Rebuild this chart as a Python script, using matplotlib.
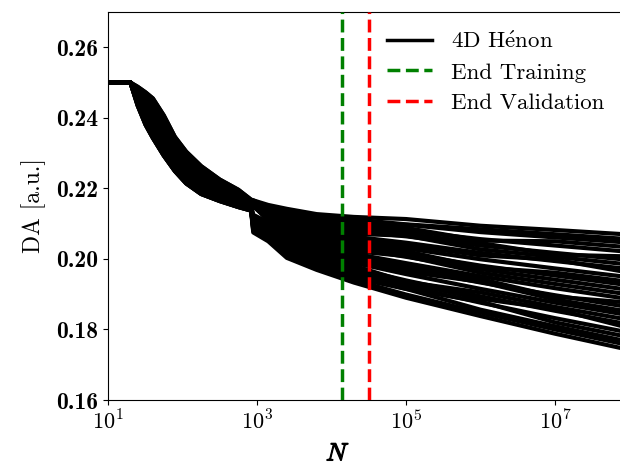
import matplotlib
matplotlib.use("Agg")
import matplotlib.pyplot as plt
import matplotlib.patheffects as pe

plt.rcParams["mathtext.fontset"] = "cm"
plt.rcParams["font.family"] = ["cmr10", "DejaVu Serif"]
plt.rcParams["axes.unicode_minus"] = False
plt.rcParams["axes.formatter.use_mathtext"] = True

n_turns = [10, 20, 25, 32, 40, 56, 79, 112, 178, 316, 562, 832, 891,
           1413, 2512, 6310, 19953, 1e5, 1e6, 1e7, 1e8]

# one row per initial condition (DA in a.u.)
da_curves = [
    [.25, .25, .2488, .2472, .2455, .2407, .2346, .2304, .2263, .2225, .2196, .2168, .2166, .2153, .2142, .2127, .2119, .2113, .2094, .2082, .2069],
    [.25, .25, .2483, .2464, .2445, .2397, .2337, .2296, .2256, .2219, .2192, .2165, .2163, .2149, .2136, .2121, .2112, .2098, .2084, .2070, .2056],
    [.25, .25, .2488, .2472, .2455, .2407, .2346, .2304, .2263, .2225, .2196, .2168, .2166, .2146, .2132, .2116, .2106, .2097, .2076, .2061, .2046],
    [.25, .25, .2478, .2455, .2435, .2386, .2329, .2288, .2249, .2214, .2187, .2162, .2160, .2142, .2127, .2110, .2099, .2088, .2052, .2050, .2033],
    [.25, .25, .2483, .2464, .2445, .2397, .2337, .2296, .2256, .2219, .2192, .2165, .2163, .2138, .2121, .2103, .2091, .2080, .2056, .2038, .2020],
    [.25, .25, .2474, .2447, .2425, .2376, .2320, .2280, .2242, .2208, .2183, .2160, .2158, .2133, .2116, .2097, .2084, .2071, .2045, .2012, .2007],
    [.25, .25, .2478, .2455, .2435, .2386, .2329, .2288, .2249, .2214, .2187, .2162, .2160, .2130, .2111, .2092, .2078, .2064, .2038, .2017, .1997],
    [.25, .25, .2469, .2439, .2415, .2366, .2311, .2272, .2235, .2203, .2178, .2157, .2155, .2126, .2106, .2086, .2071, .2066, .2027, .2006, .1984],
    [.25, .25, .2474, .2447, .2425, .2376, .2320, .2280, .2242, .2208, .2183, .2160, .2158, .2122, .2100, .2080, .2063, .2046, .2017, .1994, .1971],
    [.25, .25, .2464, .2431, .2405, .2356, .2302, .2264, .2227, .2197, .2174, .2154, .2152, .2119, .2096, .2075, .2058, .2039, .2010, .1998, .1961],
    [.25, .25, .2469, .2439, .2415, .2366, .2311, .2272, .2235, .2203, .2178, .2157, .2155, .2115, .2091, .2069, .2050, .2030, .1999, .1973, .1948],
    [.25, .25, .2459, .2421, .2393, .2344, .2293, .2255, .2220, .2191, .2169, .2151, .2149, .2111, .2085, .2062, .2043, .2022, .1976, .1961, .1935],
    [.25, .25, .2464, .2431, .2405, .2356, .2302, .2264, .2227, .2197, .2174, .2154, .2152, .2108, .2081, .2057, .2037, .2015, .1981, .1953, .1925],
    [.25, .25, .2454, .2413, .2383, .2334, .2284, .2246, .2212, .2186, .2165, .2148, .2125, .2104, .2075, .2051, .2030, .2006, .1971, .1941, .1912],
    [.25, .25, .2459, .2421, .2393, .2344, .2293, .2255, .2220, .2191, .2169, .2151, .2121, .2099, .2070, .2045, .2022, .2008, .1961, .1929, .1899],
    [.25, .25, .2449, .2405, .2373, .2324, .2275, .2238, .2205, .2181, .2160, .2145, .2117, .2095, .2064, .2039, .2015, .1988, .1951, .1917, .1886],
    [.25, .25, .2454, .2413, .2383, .2334, .2284, .2246, .2212, .2186, .2165, .2148, .2114, .2092, .2060, .2034, .2009, .1981, .1943, .1893, .1876],
    [.25, .25, .2445, .2397, .2363, .2314, .2267, .2230, .2198, .2175, .2156, .2143, .2111, .2088, .2054, .2027, .2002, .1973, .1933, .1897, .1863],
    [.25, .25, .2449, .2405, .2373, .2324, .2275, .2238, .2205, .2181, .2160, .2145, .2107, .2084, .2049, .2021, .1994, .1964, .1935, .1885, .1850],
    [.25, .25, .2440, .2388, .2353, .2303, .2258, .2222, .2191, .2170, .2151, .2140, .2104, .2081, .2045, .2016, .1989, .1957, .1915, .1876, .1840],
    [.25, .25, .2445, .2397, .2363, .2314, .2267, .2230, .2198, .2175, .2156, .2143, .2100, .2077, .2039, .2010, .1981, .1935, .1905, .1864, .1827],
    [.25, .25, .2435, .2380, .2343, .2293, .2249, .2214, .2184, .2164, .2147, .2137, .2096, .2073, .2034, .2004, .1974, .1939, .1894, .1853, .1814],
    [.25, .25, .2440, .2388, .2353, .2303, .2258, .2222, .2191, .2170, .2151, .2140, .2093, .2070, .2029, .1999, .1968, .1932, .1887, .1858, .1804],
    [.25, .25, .2435, .2380, .2343, .2293, .2249, .2214, .2184, .2164, .2147, .2137, .2089, .2065, .2024, .1993, .1961, .1923, .1876, .1832, .1791],
    [.25, .25, .2454, .2413, .2383, .2334, .2284, .2246, .2212, .2186, .2165, .2148, .2086, .2061, .2018, .1986, .1953, .1915, .1879, .1820, .1778],
    [.25, .25, .2445, .2397, .2363, .2314, .2267, .2230, .2198, .2175, .2156, .2143, .2082, .2057, .2013, .1980, .1946, .1915, .1856, .1809, .1765],
    [.25, .25, .2440, .2388, .2353, .2303, .2258, .2222, .2191, .2170, .2151, .2140, .2079, .2054, .2009, .1975, .1940, .1899, .1848, .1800, .1755],
    [.25, .25, .2435, .2380, .2343, .2293, .2249, .2214, .2184, .2164, .2147, .2137, .2075, .2050, .2003, .1969, .1933, .1890, .1838, .1788, .1742],
]

n_end_training = 1.4e4
n_end_validation = 3.2e4

x_ticks = [1e1, 1e3, 1e5, 1e7]
x_tick_labels = ["$10^{1}$", "$10^{3}$", "$10^{5}$", "$10^{7}$"]
y_ticks = [0.16, 0.18, 0.20, 0.22, 0.24, 0.26]

fig = plt.figure(figsize=(6.2, 4.69), dpi=100)
ax = fig.add_axes([108 / 620, 69 / 469, 521.5 / 620, 388 / 469])

for i, da in enumerate(da_curves):
    ax.plot(n_turns, da, color="black", lw=3.0, solid_joinstyle="round",
            label="4D H$\\acute{\\mathrm{e}}$non" if i == 0 else None)

ax.axvline(n_end_training, color="green", ls="--", lw=2.5, label="End Training", zorder=5)
ax.axvline(n_end_validation, color="red", ls="--", lw=2.5, label="End Validation", zorder=5)

ax.set_xscale("log")
ax.set_xlim(1e1, 1e8)
ax.set_ylim(0.16, 0.27)
ax.minorticks_off()
ax.set_xticks(x_ticks, labels=x_tick_labels, fontsize=16)
ax.set_yticks(y_ticks, labels=[f"{v:.2f}" for v in y_ticks])
for lab in ax.get_yticklabels():
    lab.set_fontfamily("cmb10")
    lab.set_fontsize(17)

ax.set_ylabel("DA [a.u.]", fontsize=17)
ax.yaxis.set_label_coords(-0.118, 0.5)
xl = ax.set_xlabel("$N$", fontsize=18)
xl.set_path_effects([pe.withStroke(linewidth=0.9, foreground="black")])
ax.xaxis.set_label_coords(0.441, -0.112)

leg = ax.legend(loc="upper left", bbox_to_anchor=(366 / 620, 1 - 10 / 469),
                bbox_transform=fig.transFigure, frameon=False, fontsize=16.5,
                handlelength=2.0, labelspacing=0.47)
for line in leg.get_lines():
    line.set_linewidth(2.5)

fig.savefig("out.png", dpi=100)
